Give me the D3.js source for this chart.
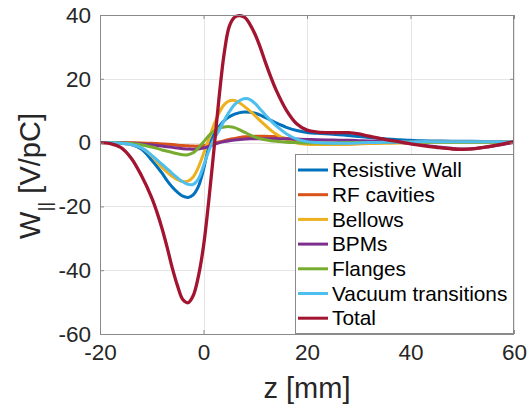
<!DOCTYPE html>
<html>
<head>
<meta charset="utf-8">
<script src="https://cdn.jsdelivr.net/npm/d3@7"></script>
<style>
html,body{margin:0;padding:0;background:#fff;}
svg{display:block;font-family:"Liberation Sans",Arial,Helvetica,sans-serif;}
</style>
</head>
<body>
<svg id="chart" width="527" height="408"></svg>
<script>
const z = [-20,-18,-16,-14,-12,-10,-9,-8,-7,-6,-5,-4,-3,-2,-1,0,1,2,3,4,5,6,7,8,9,10,11,12,13,14,16,18,20,22,25,28,30,32,35,38,40,42,45,48,50,52,55,58,60];

const resistiveWall = [0,-0.05,-0.2,-0.6,-2,-5.5,-7.5,-9.6,-12,-14,-15.6,-16.8,-17.2,-16.4,-13.8,-8.5,-1.5,2.5,5,6.9,8.1,8.9,9.4,9.6,9.5,9.2,8.6,7.8,7.0,6.2,4.8,3.8,3.2,2.9,2.6,2.2,1.9,1.6,1.2,0.9,0.7,0.6,0.5,0.45,0.4,0.4,0.35,0.3,0.3];
const rfCavities = [0,0,0,-0.05,-0.1,-0.2,-0.3,-0.4,-0.5,-0.6,-0.8,-0.9,-1.0,-1.1,-1.1,-1.0,-0.7,-0.3,0.2,0.6,1.0,1.3,1.6,1.8,1.9,2.0,2.0,2.0,1.9,1.8,1.3,0.6,0.1,-0.3,-0.5,-0.4,-0.3,-0.2,0,0.1,0.2,0.2,0.3,0.3,0.3,0.3,0.3,0.3,0.3];
const bellows = [0,-0.05,-0.2,-0.6,-1.6,-4.2,-6,-7.8,-9.3,-10.6,-11.6,-12.2,-12.1,-10.8,-7.8,-3.5,1,5.5,9.3,11.9,13.1,13.2,12.4,11.2,9.9,8.4,6.8,5.3,3.9,2.7,0.9,-0.1,-0.5,-0.6,-0.6,-0.5,-0.4,-0.3,-0.2,-0.1,0,0,0.1,0.1,0.1,0.1,0.1,0.1,0.1];
const bpms = [0,-0.02,-0.1,-0.2,-0.4,-0.7,-0.9,-1.1,-1.3,-1.5,-1.7,-1.9,-2.0,-2.1,-2.0,-1.7,-1.2,-0.6,-0.1,0.3,0.6,0.8,1.0,1.1,1.2,1.2,1.2,1.2,1.2,1.2,1.2,1.1,1.0,0.9,0.8,0.7,0.6,0.5,0.3,0,-0.3,-0.7,-1.3,-1.8,-2.0,-1.9,-1.3,-0.5,0];
const flanges = [0,0,-0.1,-0.3,-0.7,-1.4,-1.8,-2.3,-2.7,-3.1,-3.5,-3.8,-3.8,-3.2,-1.7,0.2,2.1,3.6,4.5,4.9,5.0,4.7,4.0,3.2,2.4,1.7,1.2,0.9,0.6,0.4,0.1,0,-0.1,-0.1,-0.1,0,0,0,0.1,0.1,0.1,0.1,0.1,0.1,0.1,0.1,0.1,0.1,0.1];
const vacuumTransitions = [0,-0.05,-0.2,-0.6,-1.6,-4.0,-5.4,-6.8,-8.2,-9.7,-11.1,-12.3,-13.1,-13.1,-11.4,-7.3,-2.7,1.0,3.8,6.9,9.7,11.9,13.2,13.8,13.5,12.2,10.4,8.6,6.9,5.3,2.8,1.1,0.3,0,-0.2,-0.2,-0.1,0,0.1,0.2,0.2,0.3,0.3,0.3,0.3,0.3,0.3,0.3,0.3];
const total = [0,-0.3,-1.5,-4.8,-10.3,-17.3,-21.8,-27,-33,-39.5,-45,-49.2,-50.2,-48,-42,-32.5,-18.5,-2.5,14,28,36.5,39.3,39.8,39.2,37,33.8,29.7,25,20.6,16.6,10.2,5.9,3.9,3.3,3.1,3.1,2.7,2.0,1.0,0.2,-0.4,-0.9,-1.5,-2.0,-2.1,-2.0,-1.3,-0.4,0.3];

const seriesNames = ["Resistive Wall","RF cavities","Bellows","BPMs","Flanges","Vacuum transitions","Total"];
const seriesValues = [resistiveWall, rfCavities, bellows, bpms, flanges, vacuumTransitions, total];
const seriesColors = ["#0072BD","#D95319","#EDB120","#7E2F8E","#77AC30","#4DBEEE","#A2142F"];

const xTicks = [-20,0,20,40,60];
const yTicks = [-60,-40,-20,0,20,40];
const xLabel = "z [mm]";

const L = 100, T = 15, R = 514, B = 334;
const svg = d3.select("#chart");
const x = d3.scaleLinear().domain([-20,60]).range([L,R]);
const y = d3.scaleLinear().domain([-60,40]).range([B,T]);
const fmt = d => String(d);

// grid
const grid = svg.append("g");
xTicks.forEach(t => {
  grid.append("line").attr("x1",Math.round(x(t))+0.5).attr("x2",Math.round(x(t))+0.5)
    .attr("y1",T).attr("y2",B).attr("stroke","#e6e6e6").attr("stroke-width",1);
});
yTicks.forEach(t => {
  grid.append("line").attr("y1",Math.round(y(t))+0.5).attr("y2",Math.round(y(t))+0.5)
    .attr("x1",L).attr("x2",R).attr("stroke","#e6e6e6").attr("stroke-width",1);
});

// clip
svg.append("clipPath").attr("id","clip").append("rect")
  .attr("x",L).attr("y",T-2).attr("width",R-L).attr("height",B-T+2);

const line = d3.line().x((d,i)=>x(z[i])).y(d=>y(d)).curve(d3.curveCatmullRom.alpha(0.5));
const lines = svg.append("g").attr("clip-path","url(#clip)");
seriesValues.forEach((vals,k) => {
  lines.append("path").attr("d",line(vals)).attr("fill","none")
    .attr("stroke",seriesColors[k]).attr("stroke-width",k===6?3.3:3)
    .attr("stroke-linejoin","round").attr("stroke-linecap","round");
});

// axes (box)
const axisColor = "#8a8a8a";
const xAxisB = d3.axisBottom(x).tickValues(xTicks).tickSize(-4).tickPadding(10).tickFormat(fmt);
const xAxisT = d3.axisTop(x).tickValues(xTicks).tickSize(-4).tickFormat("");
const yAxisL = d3.axisLeft(y).tickValues(yTicks).tickSize(-4).tickPadding(9).tickFormat(fmt);
const yAxisR = d3.axisRight(y).tickValues(yTicks).tickSize(-4).tickFormat("");

function style(g){
  g.selectAll(".domain").attr("stroke",axisColor);
  g.selectAll(".tick line").attr("stroke",axisColor);
  g.selectAll("text").attr("fill","#262626").style("font-size","22.5px")
    .style("font-family","'Liberation Sans',Arial,Helvetica,sans-serif");
}
svg.append("g").attr("transform",`translate(0,${B})`).call(xAxisB).call(style)
  .selectAll(".domain").attr("d",`M${L},0.5H${R}`);
svg.append("g").attr("transform",`translate(0,${T})`).call(xAxisT).call(style)
  .selectAll(".domain").attr("d",`M${L},0.5H${R}`);
svg.append("g").attr("transform",`translate(${L},0)`).call(yAxisL).call(style)
  .selectAll(".domain").attr("d",`M0.5,${T}V${B}`);
svg.append("g").attr("transform",`translate(${R},0)`).call(yAxisR).call(style)
  .selectAll(".domain").attr("d",`M-0.5,${T}V${B}`);

// axis labels
svg.append("text").attr("x",(L+R)/2).attr("y",398).attr("text-anchor","middle")
  .attr("fill","#262626").style("font-size","29px").text(xLabel);

const yl = svg.append("text").attr("transform","translate(40,176) rotate(-90)")
  .attr("text-anchor","middle").attr("fill","#262626").style("font-size","29px");
yl.append("tspan").text("W");
yl.append("tspan").attr("dy",11).style("font-size","19px").text("||");
yl.append("tspan").attr("dy",-11).text(" [V/pC]");

// legend
const lgX = 295, lgY = 154;
const lg = svg.append("g");
lg.append("rect").attr("x",lgX+0.5).attr("y",lgY+0.5).attr("width",R-lgX-1).attr("height",B-lgY-1)
  .attr("fill","#fff").attr("stroke",axisColor).attr("stroke-width",1);
seriesNames.forEach((name,k) => {
  const cy = lgY + 16 + k*24.7;
  lg.append("line").attr("x1",lgX+3).attr("x2",lgX+33).attr("y1",cy).attr("y2",cy)
    .attr("stroke",seriesColors[k]).attr("stroke-width",3);
  lg.append("text").attr("x",lgX+37).attr("y",cy).attr("dy","0.35em")
    .attr("fill","#000").style("font-size","20.8px").text(name);
});
</script>
</body>
</html>
